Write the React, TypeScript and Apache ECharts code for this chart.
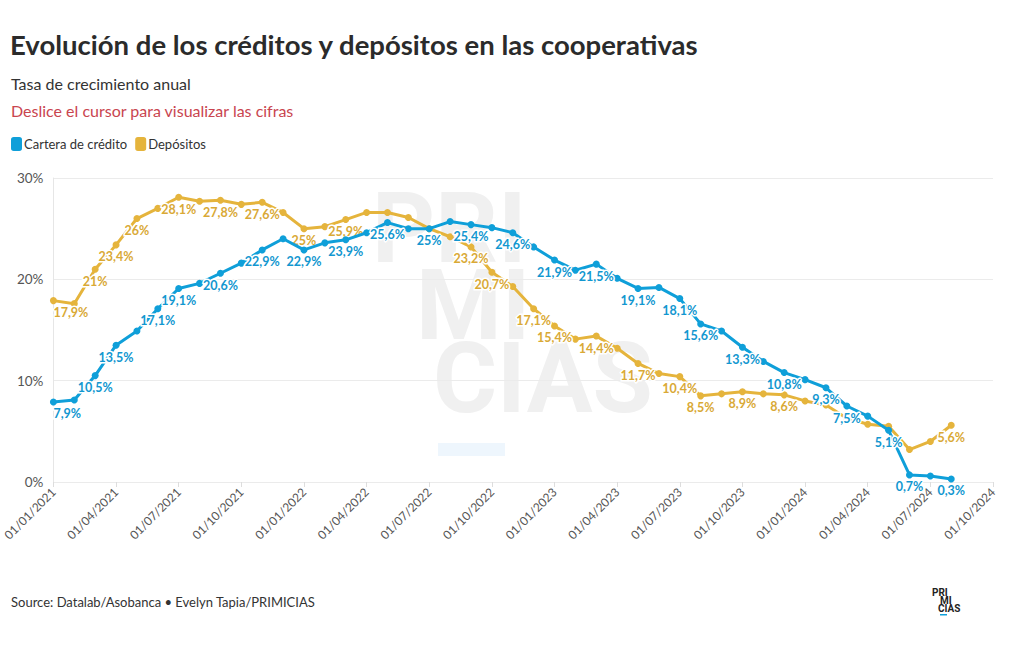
import React, { useEffect, useRef } from "react";
import * as echarts from "echarts";

const months: string[] = [];
for (let y = 2021; y <= 2024; y++) {
  for (let m = 1; m <= 12; m++) {
    if (y === 2024 && m > 10) break;
    months.push(`01/${String(m).padStart(2, "0")}/${y}`);
  }
}

const credito = [
  7.9, 8.1, 10.5, 13.5, 14.9, 17.1, 19.1, 19.6, 20.6, 21.6, 22.9, 24.0,
  22.9, 23.6, 23.9, 24.6, 25.6, 25.0, 25.0, 25.7, 25.4, 25.1, 24.6, 23.2,
  21.9, 20.9, 21.5, 20.1, 19.1, 19.2, 18.1, 15.6, 14.9, 13.3, 11.9, 10.8,
  10.1, 9.3, 7.5, 6.5, 5.1, 0.7, 0.6, 0.3,
];
const depositos = [
  17.9, 17.6, 21.0, 23.4, 26.0, 27.0, 28.1, 27.7, 27.8, 27.4, 27.6, 26.6,
  25.0, 25.2, 25.9, 26.6, 26.6, 26.1, 25.0, 24.2, 23.2, 20.7, 19.3, 17.1,
  15.4, 14.1, 14.4, 13.2, 11.7, 10.7, 10.4, 8.5, 8.7, 8.9, 8.7, 8.6,
  8.0, 7.6, 6.3, 5.7, 5.5, 3.2, 4.0, 5.6,
];
const creditoLabels = [0, 2, 3, 5, 6, 8, 10, 12, 14, 16, 18, 20, 22, 24, 26, 28, 30, 31, 33, 35, 37, 38, 40, 41, 43];
const depositosLabels = [0, 2, 3, 4, 6, 8, 10, 12, 14, 20, 21, 23, 24, 26, 28, 30, 31, 33, 35, 43];
const yTicks = [0, 10, 20, 30];

const BLUE = "#0f9fd9";
const YELLOW = "#e5b43c";
const BLUE_TXT = "#1297d0";
const YELLOW_TXT = "#d9a936";
const FONT = "Lato, 'Noto Sans', sans-serif";

const fmt = (v: number) =>
  (Number.isInteger(v) ? String(v) : v.toFixed(1).replace(".", ",")) + "%";

function buildData(vals: number[], labelIdx: number[], color: string) {
  return vals.map((v, i) => {
    const show = labelIdx.includes(i);
    return {
      value: v,
      label: {
        show,
        position: "bottom",
        distance: 2,
        align: i === 0 ? "left" : "center",
        color,
        fontSize: 12.5,
        fontWeight: "bold",
        fontFamily: FONT,
        textBorderColor: "#fff",
        textBorderWidth: 3,
        formatter: (p: any) => fmt(p.value),
      },
    };
  });
}

export default function App() {
  const ref = useRef<HTMLDivElement>(null);
  useEffect(() => {
    document.body.style.margin = "0";
    const chart = echarts.init(ref.current!, undefined, { renderer: "svg" });
    const wm = "#f0f0f0";
    chart.setOption({
      animation: false,
      backgroundColor: "#fff",
      textStyle: { fontFamily: FONT },
      graphic: [
        { type: "text", left: 10, top: 30, z: 10, style: { text: "Evolución de los créditos y depósitos en las cooperativas", font: `bold 27.5px ${FONT}`, fill: "#2b2b2b" } },
        { type: "text", left: 11, top: 75, z: 10, style: { text: "Tasa de crecimiento anual", font: `16px ${FONT}`, fill: "#333" } },
        { type: "text", left: 11, top: 102, z: 10, style: { text: "Deslice el cursor para visualizar las cifras", font: `16px ${FONT}`, fill: "#c9454f" } },
        { type: "text", left: 11, top: 595, z: 10, style: { text: "Source: Datalab/Asobanca • Evelyn Tapia/PRIMICIAS", font: `13px ${FONT}`, fill: "#333" } },
        // watermark
        { type: "text", x: 372, y: 228, z: -10, silent: true, style: { text: "PRI", font: `bold 98px Roboto`, fill: wm, textVerticalAlign: "middle" } },
        { type: "text", x: 416, y: 305, z: -10, silent: true, style: { text: "MI", font: `bold 98px Roboto`, fill: wm, textVerticalAlign: "middle" } },
        { type: "text", x: 433, y: 378, z: -10, silent: true, style: { text: "CIAS", font: `bold 98px Roboto`, fill: wm, textVerticalAlign: "middle" } },
        { type: "rect", z: -10, silent: true, shape: { x: 438, y: 443, width: 67, height: 13 }, style: { fill: "#eef6fd" } },
        // small logo
        { type: "text", x: 932, y: 592, z: 10, style: { text: "PRI", font: `bold 10px Roboto`, fill: "#222", textVerticalAlign: "middle" } },
        { type: "text", x: 940, y: 600, z: 10, style: { text: "MI", font: `bold 10px Roboto`, fill: "#222", textVerticalAlign: "middle" } },
        { type: "text", x: 938, y: 608, z: 10, style: { text: "CIAS", font: `bold 10px Roboto`, fill: "#222", textVerticalAlign: "middle" } },
        { type: "rect", z: 10, shape: { x: 940, y: 614, width: 7, height: 1.5 }, style: { fill: BLUE } },
      ],
      legend: {
        left: 11,
        top: 137,
        padding: 0,
        icon: "roundRect",
        itemWidth: 11,
        itemHeight: 14,
        itemGap: 8,
        textStyle: { fontSize: 13, color: "#333", fontFamily: FONT, padding: [0, 0, 0, -3] },
        data: ["Cartera de crédito", "Depósitos"],
      },
      grid: { left: 52, right: 27, top: 178, bottom: 168, containLabel: false },
      xAxis: {
        type: "category",
        data: months,
        boundaryGap: false,
        axisLine: { show: false },
        axisTick: { show: true, interval: 2, length: 5, lineStyle: { color: "#dddddd" } },
        axisLabel: { interval: 2, rotate: 45, color: "#555", fontSize: 12, fontFamily: FONT, margin: 8 },
        splitLine: { show: false },
      },
      yAxis: {
        type: "value",
        min: yTicks[0],
        max: yTicks[yTicks.length - 1],
        interval: 10,
        axisLine: { show: true, lineStyle: { color: "#e6e6e6" } },
        axisTick: { show: false },
        axisLabel: { color: "#555", fontSize: 13.5, fontFamily: FONT, margin: 10, formatter: (v: number) => v + "%" },
        splitLine: { lineStyle: { color: "#ebebeb" } },
      },
      series: [
        {
          name: "Depósitos",
          type: "line",
          data: buildData(depositos, depositosLabels, YELLOW_TXT),
          color: YELLOW,
          symbol: "circle",
          symbolSize: 7,
          lineStyle: { width: 3, color: YELLOW },
          itemStyle: { color: YELLOW },
          z: 2,
        },
        {
          name: "Cartera de crédito",
          type: "line",
          data: buildData(credito, creditoLabels, BLUE_TXT),
          color: BLUE,
          symbol: "circle",
          symbolSize: 7,
          lineStyle: { width: 3, color: BLUE },
          itemStyle: { color: BLUE },
          z: 3,
        },
      ],
    });
    return () => chart.dispose();
  }, []);
  return <div ref={ref} style={{ position: "fixed", left: 0, top: 0, width: 1020, height: 650 }} />;
}
